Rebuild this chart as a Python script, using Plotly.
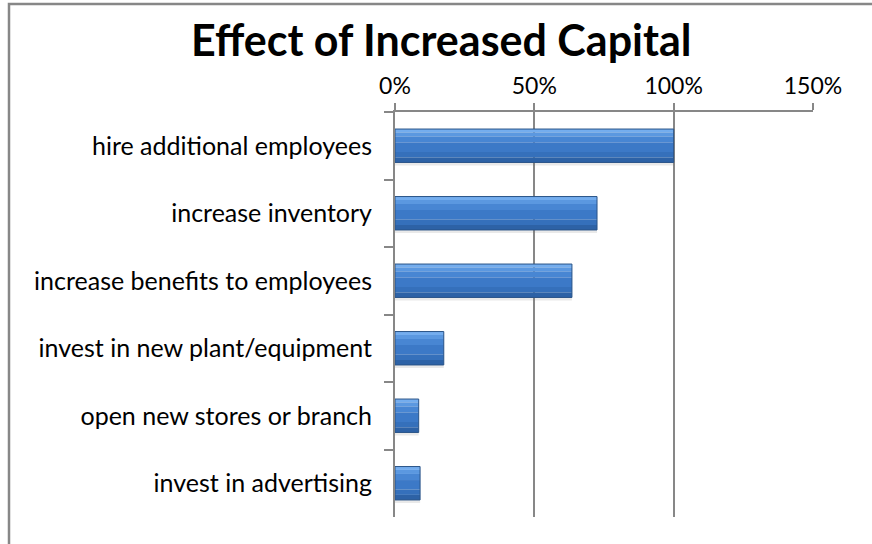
import plotly.graph_objects as go

# Survey responses: share of firms naming each use of extra capital
categories = [
    "hire additional employees",
    "increase inventory",
    "increase benefits to employees",
    "invest in new plant/equipment",
    "open new stores or branch",
    "invest in advertising",
]
shares = [1.00, 0.725, 0.635, 0.175, 0.085, 0.09]
tick_values = [0, 0.5, 1.0, 1.5]
tick_labels = ["0%", "50%", "100%", "150%"]

W, H = 872, 544
L, R, T, B = 395, 59, 112, 27
BAR_W = 0.495
half = BAR_W / 2

fig = go.Figure()

def bar_layer(width, offset, color, line=None):
    fig.add_trace(go.Bar(
        y=categories, x=shares, orientation="h",
        width=width, offset=offset,
        marker=dict(color=color, line=line or dict(width=0)),
        hoverinfo="skip", showlegend=False,
    ))

# faint drop shadow under each bar
bar_layer(BAR_W, -half + 0.045, "rgba(120,120,120,0.16)")
# body, shaded from a light top edge to a darker bottom edge
bands = [
    (0.00, 0.05, "#74adee"),
    (0.05, 0.11, "#5b98e0"),
    (0.11, 0.20, "#4886d3"),
    (0.20, 0.34, "#3c79c7"),
    (0.34, 0.42, "#3570bb"),
    (0.42, 0.495, "#2d62a6"),
]
for a, b, col in bands:
    bar_layer(b - a, -half + a, col)
# outline
bar_layer(BAR_W, -half, "rgba(0,0,0,0)", dict(color="#2a5488", width=1))

axis_grey = "#878787"
font_family = "Lato, 'Liberation Sans', sans-serif"

fig.update_layout(
    width=W, height=H,
    margin=dict(l=L, r=R, t=T, b=B),
    paper_bgcolor="white", plot_bgcolor="white",
    barmode="overlay",
    showlegend=False,
    font=dict(family=font_family, color="#000000"),
    xaxis=dict(
        side="top", range=[0, 1.5],
        tickvals=tick_values, ticktext=tick_labels,
        tickfont=dict(size=23, family=font_family),
        showgrid=True, gridcolor=axis_grey, gridwidth=1.5,
        showline=True, linecolor=axis_grey, linewidth=2,
        ticks="outside", ticklen=7, tickcolor=axis_grey, tickwidth=1.5,
        zeroline=False, fixedrange=True,
    ),
    yaxis=dict(
        categoryorder="array", categoryarray=categories,
        autorange="reversed",
        tickfont=dict(size=25, family=font_family),
        tickson="boundaries",
        ticks="outside", ticklen=9, tickcolor=axis_grey, tickwidth=1.5,
        showline=True, linecolor=axis_grey, linewidth=2,
        showgrid=False, zeroline=False, fixedrange=True,
        ticklabelstandoff=16,
    ),
)

# chart frame (runs off the right and bottom edges)
pw, ph = W - L - R, H - T - B
def px_x(p):
    return (p - L) / pw
def px_y(p):
    return (H - B - p) / ph
fig.add_shape(
    type="rect", xref="paper", yref="paper",
    x0=px_x(9), x1=px_x(W + 60), y0=px_y(H + 60), y1=px_y(4),
    line=dict(color=axis_grey, width=2.5), fillcolor="rgba(0,0,0,0)",
    layer="below",
)

fig.add_annotation(
    text="<b>Effect of Increased Capital</b>",
    xref="paper", yref="paper",
    x=px_x(440.5), y=px_y(39), xanchor="center", yanchor="middle",
    showarrow=False,
    font=dict(size=43, family=font_family, color="#000000"),
)

fig.write_html("out.html", config={"displayModeBar": False})
